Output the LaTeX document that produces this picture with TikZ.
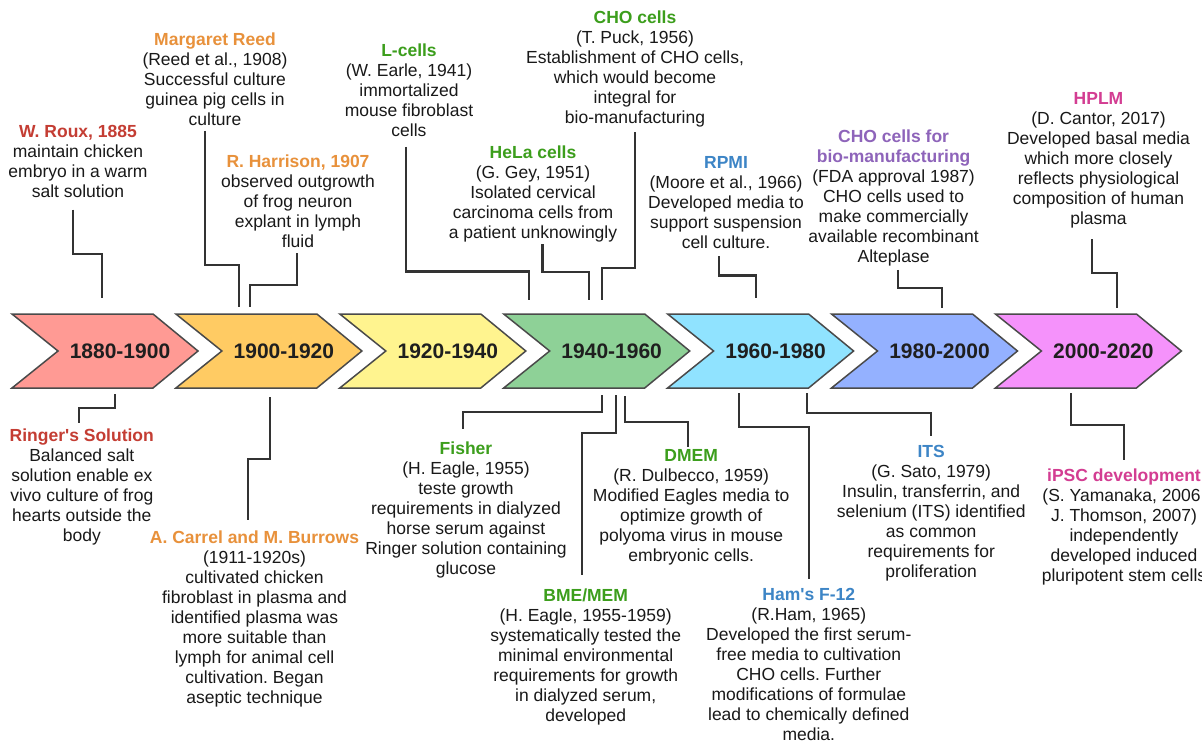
\documentclass[tikz,border=0pt]{standalone}
\usepackage{fontspec}
\setmainfont{Liberation Sans}
\usepackage{tikz}
\usetikzlibrary{positioning}
\frenchspacing
\definecolor{eraA}{HTML}{FF9A94}
\definecolor{eraB}{HTML}{FFCB63}
\definecolor{eraC}{HTML}{FFF48F}
\definecolor{eraD}{HTML}{8ED197}
\definecolor{eraE}{HTML}{90E3FF}
\definecolor{eraF}{HTML}{94B1FF}
\definecolor{eraG}{HTML}{F592FB}
\definecolor{eraline}{HTML}{4A4A4A}
\definecolor{linkgray}{HTML}{333333}
\definecolor{cred}{HTML}{C43D33}
\definecolor{corange}{HTML}{E8913B}
\definecolor{cgreen}{HTML}{3C9E1C}
\definecolor{cblue}{HTML}{3D85C6}
\definecolor{cpurple}{HTML}{8E64BA}
\definecolor{cpink}{HTML}{D33D92}
\tikzset{era/.style = {draw=eraline, line width=1.5pt, line join=miter}}
\tikzset{eralabel/.style = {font=\fontsize{21}{24}\selectfont\bfseries, text=black!88}}
\tikzset{event/.style = {align=center, anchor=north, inner sep=0, text=black!90,
                         font=\fontsize{17.5}{20}\selectfont,
                         execute at begin node={\rule{0pt}{14pt}},
                         execute at end node={\rule[-5pt]{0pt}{5pt}}}}
\tikzset{link/.style = {draw=linkgray, line width=2.2pt}}
\newcommand{\ttl}[2]{\textcolor{#1}{\textbf{#2}}}

\begin{document}
\begin{tikzpicture}[x=1pt, y=-1pt]
  \useasboundingbox [fill=white] (0,0) rectangle (1202,741);

  % eras
  \foreach \i/\yr/\col in {0/1880-1900/eraA, 1/1900-1920/eraB, 2/1920-1940/eraC,
                           3/1940-1960/eraD, 4/1960-1980/eraE, 5/1980-2000/eraF,
                           6/2000-2020/eraG} {
    \draw [era, fill=\col] ({12+163.9*\i},314) -- ++(141,0) -- ++(45,37) -- ++(-45,37)
          -- ++(-141,0) -- ++(46,-37) -- cycle;
    \node [eralabel] (era\i) at ({120+163.9*\i},351) {\yr};
  }

  % events above
  \node [event] (roux) at (78,125.3) {\ttl{cred}{W. Roux, 1885}\\maintain chicken\\embryo in a warm\\salt solution};
  \node [event] (reed) at (215,32.7) {\ttl{corange}{Margaret Reed}\\(Reed et al., 1908)\\Successful culture\\guinea pig cells in\\culture};
  \node [event] (harrison) at (298,154.3) {\ttl{corange}{R. Harrison, 1907}\\observed outgrowth\\of frog neuron\\explant in lymph\\fluid};
  \node [event] (lcells) at (409,43.7) {\ttl{cgreen}{L-cells}\\(W. Earle, 1941)\\immortalized\\mouse fibroblast\\cells};
  \node [event] (hela) at (533,145.3) {\ttl{cgreen}{HeLa cells}\\(G. Gey, 1951)\\Isolated cervical\\carcinoma cells from\\a patient unknowingly};
  \node [event] (cho) at (635,11) {\ttl{cgreen}{CHO cells}\\(T. Puck, 1956)\\Establishment of CHO cells,\\which would become\\integral for\\bio-manufacturing};
  \node [event] (rpmi) at (726,156) {\ttl{cblue}{RPMI}\\(Moore et al., 1966)\\Developed media to\\support suspension\\cell culture.};
  \node [event] (chobio) at (893.6,129.3) {\ttl{cpurple}{CHO cells for}\\\ttl{cpurple}{bio-manufacturing}\\(FDA approval 1987)\\CHO cells used to\\make commercially\\available recombinant\\Alteplase};
  \node [event] (hplm) at (1098.5,92) {\ttl{cpink}{HPLM}\\(D. Cantor, 2017)\\Developed basal media\\which more closely\\reflects physiological\\composition of human\\plasma};

  % events below
  \node [event] (ringer) at (81.8,428.2) {\ttl{cred}{Ringer\textquotesingle s Solution}\\Balanced salt\\solution enable ex\\vivo culture of frog\\hearts outside the\\body};
  \node [event] (carrel) at (254.5,530.2) {\ttl{corange}{A. Carrel and M. Burrows}\\(1911-1920s)\\cultivated chicken\\fibroblast in plasma and\\identified plasma was\\more suitable than\\lymph for animal cell\\cultivation. Began\\aseptic technique};
  \node [event] (fisher) at (466,441.3) {\ttl{cgreen}{Fisher}\\(H. Eagle, 1955)\\teste growth\\requirements in dialyzed\\horse serum against\\Ringer solution containing\\glucose};
  \node [event] (bme) at (585.7,588.7) {\ttl{cgreen}{BME/MEM}\\(H. Eagle, 1955-1959)\\systematically tested the\\minimal environmental\\requirements for growth\\in dialyzed serum,\\developed};
  \node [event] (dmem) at (691.2,449.6) {\ttl{cgreen}{DMEM}\\(R. Dulbecco, 1959)\\Modified Eagles media to\\optimize growth of\\polyoma virus in mouse\\embryonic cells.};
  \node [event] (hams) at (808.8,588.4) {\ttl{cblue}{Ham\textquotesingle s F-12}\\(R.Ham, 1965)\\Developed the first serum-\\free media to cultivation\\CHO cells. Further\\modifications of formulae\\lead to chemically defined\\media.};
  \node [event] (its) at (931.2,445.5) {\ttl{cblue}{ITS}\\(G. Sato, 1979)\\Insulin, transferrin, and\\selenium (ITS) identified\\as common\\requirements for\\proliferation};
  \node [event] (ipsc) at (1124,468.3) {\ttl{cpink}{iPSC development}\\(S. Yamanaka, 2006,\\J. Thomson, 2007)\\independently\\developed induced\\pluripotent stem cells};

  % free ends at the eras
  \coordinate (e1) at (102,298);
  \coordinate (e2) at (239,307);
  \coordinate (e3) at (250,307);
  \coordinate (e4) at (529,300);
  \coordinate (e5) at (589,300);
  \coordinate (e6) at (602,300);
  \coordinate (e7) at (756,298);
  \coordinate (e8) at (942,308);
  \coordinate (e9) at (1117,308);
  \coordinate (e10) at (115,394);
  \coordinate (e11) at (270,397);
  \coordinate (e12) at (602,395);
  \coordinate (e13) at (616,395);
  \coordinate (e14) at (625,396);
  \coordinate (e15) at (739,393);
  \coordinate (e16) at (807,393);
  \coordinate (e17) at (1071,393);

  % connectors
  \draw [link] ([shift={(-5,6.7)}]roux.south) -- ++(0,44) -| (e1);
  \draw [link] ([shift={(-10,0)}]reed.south) -- ++(0,134) -| (e2);
  \draw [link] ([shift={(-1.3,1)}]harrison.south) -- ++(0,32) -| (e3);
  \draw [link] ([shift={(-3,5)}]lcells.south) -- ++(0,124.7) -| (e4);
  \draw [link] ([shift={(9.5,1)}]hela.south) -- ++(0,27.7) -| (e5);
  \draw [link] ([shift={(0,3)}]cho.south) -- ++(0,136.3) -| (e6);
  \draw [link] ([shift={(-7,3)}]rpmi.south) -- ++(0,19) -| (e7);
  \draw [link] ([shift={(4,2.4)}]chobio.south) -- ++(0,18.6) -| (e8);
  \draw [link] ([shift={(-6.5,10)}]hplm.south) -- ++(0,33.6) -| (e9);
  \draw [link] (e10) -- ++(0,14) -| ([shift={(-3,-5)}]ringer.north);
  \draw [link] (e11) -- ++(0,62) -| ([shift={(-6.5,-10)}]carrel.north);
  \draw [link] (e12) -- ++(0,17.3) -| ([shift={(-3,-12)}]fisher.north);
  \draw [link] (e13) -- ++(0,37.7) -| ([shift={(-4,-14)}]bme.north);
  \draw [link] (e14) -- ++(0,25.7) -| ([shift={(-3,-3)}]dmem.north);
  \draw [link] (e15) -- ++(0,33.7) -| ([shift={(0,-9.7)}]hams.north);
  \draw [link] (e16) -- ++(0,20.3) -| ([shift={(0,-10)}]its.north);
  \draw [link] (e17) -- ++(0,32) -| ([shift={(0,-8)}]ipsc.north);
\end{tikzpicture}
\end{document}
